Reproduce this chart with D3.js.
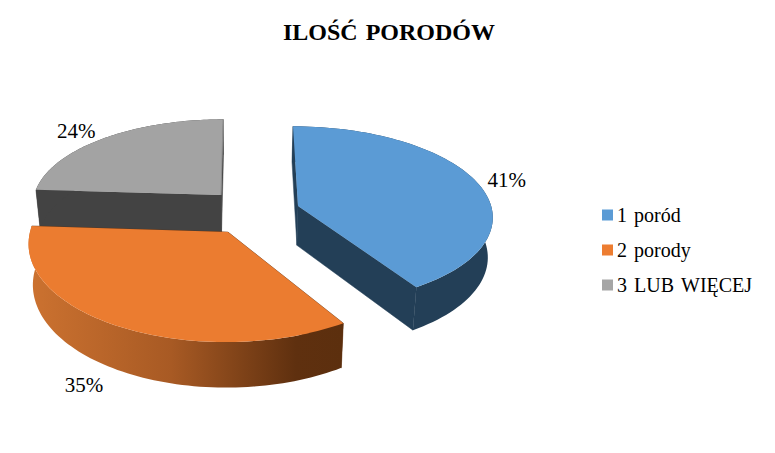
<!DOCTYPE html>
<html><head><meta charset="utf-8">
<script src="https://cdn.jsdelivr.net/npm/d3@7"></script>
<style>html,body{margin:0;padding:0;background:#fff}svg{display:block}text{font-family:"Liberation Serif",serif;fill:#000;font-kerning:none}</style>
</head><body><svg id="c" width="775" height="453"></svg>
<script>
const title = "ILOŚĆ PORODÓW";
const categories = ["1 poród", "2 porody", "3 LUB WIĘCEJ"];
const shares = [41, 35, 24];
const labels = ["41%", "35%", "24%"];
const topColors = ["#5B9BD5", "#EB7C30", "#A3A3A3"];

// 3D projection layout
const xc = 244, yVanish = -653, yDepth = 863, persp = 0.1017, rimX = 198, wallDrop = 39.5, wallShrink = 0.98;
const explodeU = [0.274, -0.079, -0.118], explodeV = [0.046, -0.245, 0.174];
const radiusU = [0.98, 0.975, 0.96], radiusV = [1.01, 1.06, 0.98];
const labelNudge = [[30, 0], [-31, 62], [-27, -5]];

const svg = d3.select("#c");
const arcs = d3.pie().sort(null).value(d => d)(shares);
const defs = svg.append("defs");
const grad = defs.append("linearGradient").attr("id", "wallO").attr("gradientUnits", "userSpaceOnUse")
  .attr("x1", 30).attr("x2", 343).attr("y1", 0).attr("y2", 0);
grad.append("stop").attr("offset", 0).attr("stop-color", "#CC7230");
grad.append("stop").attr("offset", 0.45).attr("stop-color", "#A85A24");
grad.append("stop").attr("offset", 0.85).attr("stop-color", "#5F300F");
grad.append("stop").attr("offset", 1).attr("stop-color", "#5C2F0E");

function proj(i, a, r, low) {
  const u = explodeU[i] + r * radiusU[i] * Math.sin(a);
  const v = explodeV[i] + r * radiusV[i] * Math.cos(a);
  const w = 1 + persp * v;
  const x = rimX * u / w, y = yVanish + yDepth / w;
  return low ? [xc + x * wallShrink, y + wallDrop / w] : [xc + x, y];
}
const line = d3.line();
function rim(i, d, low) {
  return d3.range(0, 1.0001, 1 / 80).map(t => proj(i, d.startAngle + t * (d.endAngle - d.startAngle), 1, low));
}
const wallFill = ["#233F57", "url(#wallO)", "#434343"];
const radialFill = ["#233F57", "#5C2F0E", "#434343"];
[2, 0, 1].forEach(i => {
  const d = arcs[i], g = svg.append("g");
  const cT = proj(i, 0, 0, false), cB = proj(i, 0, 0, true);
  const top = rim(i, d, false), low = rim(i, d, true);
  [[top[0], low[0]], [top[80], low[80]]].forEach(([p, q]) => {
    g.append("path").attr("d", line([cT, p, q, cB]) + "Z").attr("fill", radialFill[i]).attr("stroke", radialFill[i]).attr("stroke-width", 0.5);
  });
  g.append("path").attr("d", line(top.concat(low.slice().reverse())) + "Z").attr("fill", wallFill[i]);
  g.append("path").attr("d", line([cT].concat(top)) + "Z").attr("fill", topColors[i]);
  if (i === 2) {
    g.append("path").attr("d", line([cT, top[80]])).attr("fill", "none").attr("stroke", "#8C8C8C").attr("stroke-width", 1);
  }
});

// Percent labels
arcs.forEach((d, i) => {
  const p = proj(i, (d.startAngle + d.endAngle) / 2, 1, false);
  svg.append("text").attr("x", p[0] + labelNudge[i][0]).attr("y", p[1] + labelNudge[i][1])
    .attr("text-anchor", "middle").attr("dominant-baseline", "middle").attr("font-size", 21).text(labels[i]);
});

svg.append("text").attr("x", 389).attr("y", 40).attr("text-anchor", "middle")
  .attr("font-size", 24).attr("font-weight", "bold").style("word-spacing", "2px").text(title);

// Legend
const legendY = d3.scalePoint().domain(categories).range([215, 285]);
categories.forEach((c, i) => {
  svg.append("rect").attr("x", 602).attr("y", legendY(c) - 5.5).attr("width", 11).attr("height", 11)
    .attr("fill", ["#5B9BD5", "#ED7D31", "#A5A5A5"][i]);
  svg.append("text").attr("x", 617).attr("y", legendY(c) + 7).attr("font-size", 20).style("word-spacing", "2px").text(c);
});
</script></body></html>
